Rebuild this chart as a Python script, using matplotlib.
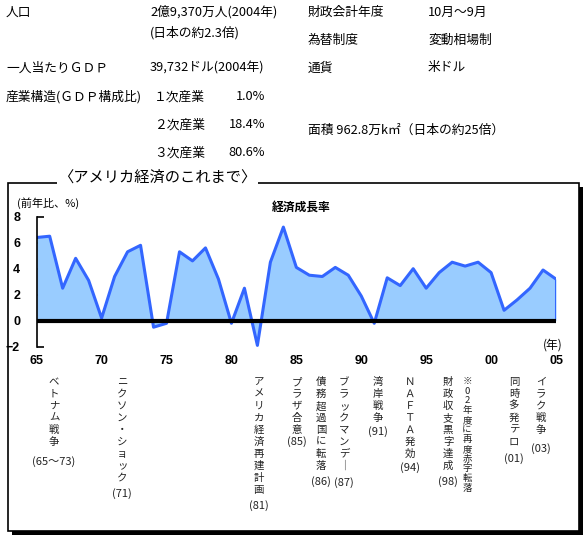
import matplotlib
matplotlib.use('Agg')
import matplotlib.pyplot as plt
from matplotlib.patches import Rectangle
import numpy as np

plt.rcParams['font.family'] = ['Noto Sans CJK JP', 'DejaVu Sans']

# --- data ---
years = np.arange(1965, 2006)
growth = [6.4, 6.5, 2.5, 4.8, 3.1, 0.2, 3.4, 5.3, 5.8, -0.5,
          -0.2, 5.3, 4.6, 5.6, 3.2, -0.2, 2.5, -1.9, 4.5, 7.2,
          4.1, 3.5, 3.4, 4.1, 3.5, 1.9, -0.2, 3.3, 2.7, 4.0,
          2.5, 3.7, 4.5, 4.2, 4.5, 3.7, 0.8, 1.6, 2.5, 3.9,
          3.2]
ytick_vals = [-2, 0, 2, 4, 6, 8]
xtick_years = [1965, 1970, 1975, 1980, 1985, 1990, 1995, 2000, 2005]
xtick_labels = ['65', '70', '75', '80', '85', '90', '95', '00', '05']

# profile table at the top: (label, value)
profile_left = [('人口', '2億9,370万人(2004年)'),
                ('', '(日本の約2.3倍)'),
                ('一人当たりＧＤＰ', '39,732ドル(2004年)'),
                ('産業構造(ＧＤＰ構成比)', '')]
industry = ['１次産業', '２次産業', '３次産業']
industry_share = ['1.0%', '18.4%', '80.6%']
profile_right = [('財政会計年度', '10月～9月'),
                 ('為替制度', '変動相場制'),
                 ('通貨', '米ドル')]
area_text = '面積 962.8万k㎡（日本の約25倍）'

events = ['ベトナム戦争', 'ニクソン・ショック', 'アメリカ経済再建計画', 'プラザ合意',
          '債務超過国に転落', 'ブラックマンデ｜', '湾岸戦争', 'ＮＡＦＴＡ発効',
          '財政収支黒字達成', '※02年度に再度赤字転落', '同時多発テロ', 'イラク戦争']
event_years = ['(65～73)', '(71)', '(81)', '(85)', '(86)', '(87)', '(91)',
               '(94)', '(98)', '', '(01)', '(03)']

# --- layout (pixels in the 588x541 picture) ---
W, H = 588, 541
event_x = [54, 122, 259, 297, 321, 344, 378, 410, 448, 467, 514, 541]
event_year_y = [462, 494, 506, 442, 482, 483, 432, 468, 482, 0, 459, 449]


def fx(x):
    return x / W


def fy(y):
    return 1 - y / H


fig = plt.figure(figsize=(W / 100, H / 100), dpi=100)

# frame with drop shadow
fig.add_artist(Rectangle((fx(11.5), fy(535)), (579 - 8) / W, (531 - 183) / H,
                         transform=fig.transFigure, facecolor='black',
                         edgecolor='none', zorder=-2))
fig.add_artist(Rectangle((fx(8), fy(531)), (579 - 8) / W, (531 - 183) / H,
                         transform=fig.transFigure, facecolor='white',
                         edgecolor='black', lw=1.2, zorder=-1))
fig.text(fx(157), fy(177), '〈アメリカ経済のこれまで〉', fontsize=11,
         ha='center', va='center',
         bbox=dict(facecolor='white', edgecolor='none', pad=1))

# top profile text
fs = 9.2
left_rows = [12, 33, 68, 97]
for (lab, val), y in zip(profile_left, left_rows):
    fig.text(fx(6), fy(y), lab, fontsize=fs, va='center')
    fig.text(fx(150), fy(y), val, fontsize=fs, va='center')
for name, share, y in zip(industry, industry_share, [97, 125, 153]):
    fig.text(fx(154), fy(y), name, fontsize=fs, va='center')
    fig.text(fx(265), fy(y), share, fontsize=fs, va='center', ha='right')
for (lab, val), y in zip(profile_right, [12, 40, 68]):
    fig.text(fx(308), fy(y), lab, fontsize=fs, va='center')
    fig.text(fx(428), fy(y), val, fontsize=fs, va='center')
fig.text(fx(308), fy(130), area_text, fontsize=fs, va='center')

# chart
ax = fig.add_axes([fx(36.7), fy(346.7), (556 - 36.7) / W, (346.7 - 216.7) / H])
ax.set_facecolor('none')
ax.set_axisbelow(True)
ax.fill_between(years, growth, 0, color='#99CCFF', lw=0, zorder=1)
ax.plot(years, growth, color='#3366FF', lw=2.2, zorder=2)
ax.plot([years[-1], years[-1]], [growth[-1], 0], color='#3366FF', lw=2.2,
        zorder=2)
ax.axhline(0, color='black', lw=3, zorder=3)
ax.set_xlim(years[0], years[-1])
ax.set_ylim(ytick_vals[0], ytick_vals[-1])
ax.set_yticks(ytick_vals)
ax.set_xticks(xtick_years)
ax.set_xticklabels(xtick_labels)
for s in ['top', 'right', 'bottom']:
    ax.spines[s].set_visible(False)
ax.spines['left'].set_linewidth(1.2)
ax.tick_params(axis='y', direction='in', length=5, width=1.2, pad=12,
               labelsize=9)
ax.tick_params(axis='x', length=0, pad=6, labelsize=9)
for t in ax.get_xticklabels() + ax.get_yticklabels():
    t.set_family('Liberation Sans')
    t.set_fontweight('bold')

fig.text(fx(17), fy(203), '(前年比、%)', fontsize=8, va='center')
fig.text(fx(301), fy(207), '経済成長率', fontsize=8.5, va='center',
         ha='center', fontweight='bold')
fig.text(fx(553), fy(345), '(年)', fontsize=8.5, va='center', ha='center')

# events written top to bottom
for lab, yr, x, y in zip(events, event_years, event_x, event_year_y):
    if lab.startswith('※'):
        fs_ev, ls = 6.8, 1.1
    else:
        fs_ev, ls = 7.5, 1.24
    fig.text(fx(x), fy(377), '\n'.join(lab), fontsize=fs_ev, ha='center',
             va='top', linespacing=ls, color='#222222')
    if yr:
        fig.text(fx(x), fy(y), yr, fontsize=8, ha='center', va='center',
                 color='#222222')

fig.savefig('out.png', dpi=100)
